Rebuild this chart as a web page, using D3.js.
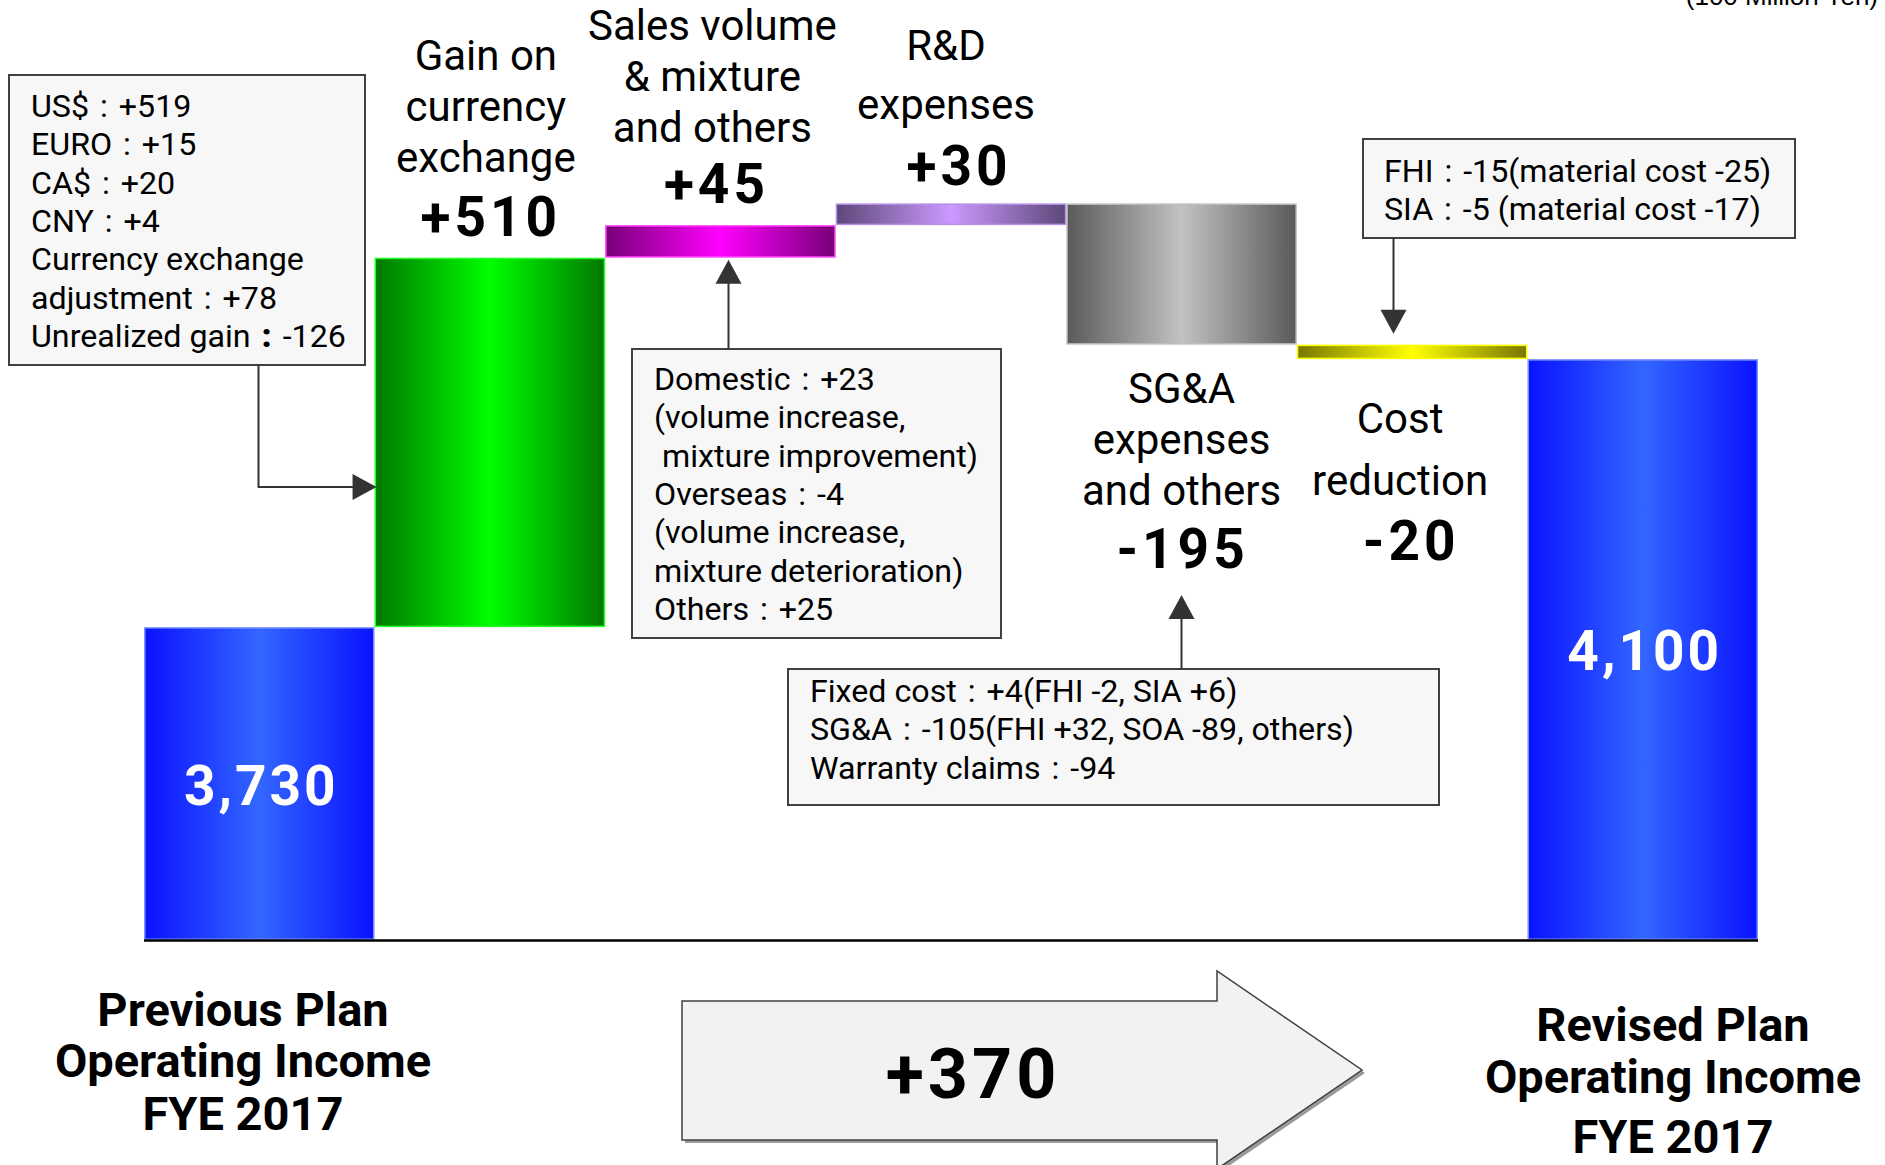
<!DOCTYPE html>
<html>
<head>
<meta charset="utf-8">
<script src="https://cdn.jsdelivr.net/npm/d3@7"></script>
<style>
  html, body { margin: 0; padding: 0; background: #ffffff; }
  svg { display: block; }
  text { font-family: Roboto, "DejaVu Sans", sans-serif; }
</style>
</head>
<body>
<svg id="chart" width="1885" height="1165"></svg>
<script>
// ---------------- DATA ----------------
const categories = [
  "Previous Plan Operating Income FYE 2017",
  "Gain on currency exchange",
  "Sales volume & mixture and others",
  "R&D expenses",
  "SG&A expenses and others",
  "Cost reduction",
  "Revised Plan Operating Income FYE 2017"
];
const values = [3730, 510, 45, 30, -195, -20, 4100];
const barKinds = ["total", "delta", "delta", "delta", "delta", "delta", "total"];
const valueLabels = ["3,730", "+510", "+45", "+30", "-195", "-20", "4,100"];
const labelLines = [
  [],
  ["Gain on", "currency", "exchange"],
  ["Sales volume", "& mixture", "and others"],
  ["R&D", "expenses"],
  ["SG&A", "expenses", "and others"],
  ["Cost", "reduction"],
  []
];
const axisFloor = 3298;          // truncated value axis bottom
const unitLabel = "(100 Million Yen)";
const totalChange = "+370";
const startTitle = ["Previous Plan", "Operating Income", "FYE 2017"];
const endTitle = ["Revised Plan", "Operating Income", "FYE 2017"];

// each note line: [label, value] ("" label = plain line)
const noteCurrency = [["US$", "+519"], ["EURO", "+15"], ["CA$", "+20"], ["CNY", "+4"],
  ["", "Currency exchange"], ["adjustment", "+78"], ["Unrealized gain", "-126"]];
const noteSales = [["Domestic", "+23"], ["", "(volume increase,"], ["", " mixture improvement)"],
  ["Overseas", "-4"], ["", "(volume increase,"], ["", "mixture deterioration)"], ["Others", "+25"]];
const noteSGA = [["Fixed cost", "+4(FHI -2, SIA +6)"],
  ["SG&A", "-105(FHI +32, SOA -89, others)"], ["Warranty claims", "-94"]];
const noteCost = [["FHI", "-15(material cost -25)"], ["SIA", "-5 (material cost -17)"]];

// ---------------- LAYOUT / STYLE ----------------
const palette = [
  {edge: "#0a12ff", mid: "#3366ff", stroke: "#7d96ff"},
  {edge: "#007800", mid: "#00ff00", stroke: "#22ff22"},
  {edge: "#780078", mid: "#ff00ff", stroke: "#ff44ff"},
  {edge: "#5c4878", mid: "#cc99ff", stroke: "#b58fe6"},
  {edge: "#5a5a5a", mid: "#c2c2c2", stroke: "#bdbdbd"},
  {edge: "#787800", mid: "#ffff00", stroke: "#ffff00"},
  {edge: "#0a12ff", mid: "#3366ff", stroke: "#7d96ff"}
];
const labelLayout = [
  null,
  {dx: -4, y0: 70, step: 51, vdx: -1, vy: 236},
  {dx: -8, y0: 40, step: 51, vdx: -6, vy: 203},
  {dx: -5, y0: 60, step: 59, vdx: 6, vy: 185},
  {dx: 0, y0: 403, step: 51, vdx: -1, vy: 568},
  {dx: -12, y0: 433, step: 62, vdx: -3, vy: 560},
  null
];

const svg = d3.select("#chart");
const defs = svg.append("defs");

const x = d3.scaleBand().domain(categories).range([144, 1758]).paddingInner(0).paddingOuter(0);

// running totals
let run = 0;
const bars = categories.map((c, i) => {
  let lo, hi;
  if (barKinds[i] === "total") { lo = axisFloor; hi = values[i]; run = values[i]; }
  else { const s = run; run = run + values[i]; lo = Math.min(s, run); hi = Math.max(s, run); }
  return {cat: c, i, lo, hi, value: values[i]};
});
const maxTop = d3.max(bars, d => d.hi);
const y = d3.scaleLinear().domain([axisFloor, maxTop]).range([940, 203.4]);

// gradients
palette.forEach((p, i) => {
  const g = defs.append("linearGradient").attr("id", "grad" + i)
    .attr("x1", "0%").attr("x2", "100%").attr("y1", "0%").attr("y2", "0%");
  g.append("stop").attr("offset", "0%").attr("stop-color", p.edge);
  g.append("stop").attr("offset", "50%").attr("stop-color", p.mid);
  g.append("stop").attr("offset", "100%").attr("stop-color", p.edge);
});

// bars
svg.append("g").selectAll("rect").data(bars).join("rect")
  .attr("x", d => x(d.cat) + 0.75)
  .attr("y", d => y(d.hi) + 0.75)
  .attr("width", x.bandwidth() - 1.5)
  .attr("height", d => Math.max(1, y(d.lo) - y(d.hi) - 1.5))
  .attr("fill", d => `url(#grad${d.i})`)
  .attr("stroke", d => palette[d.i].stroke)
  .attr("stroke-width", 1.5);

// baseline
svg.append("line")
  .attr("x1", x.range()[0]).attr("x2", x.range()[1])
  .attr("y1", y(axisFloor) + 0.5).attr("y2", y(axisFloor) + 0.5)
  .attr("stroke", "#000").attr("stroke-width", 2.5);

// total labels inside bars
const totalLabelY = {0: 805, 6: 670};
svg.append("g").selectAll("text").data(bars.filter(d => barKinds[d.i] === "total")).join("text")
  .attr("x", d => x(d.cat) + x.bandwidth() / 2 + 2)
  .attr("y", d => totalLabelY[d.i])
  .attr("text-anchor", "middle")
  .attr("fill", "#ffffff")
  .attr("font-weight", "bold")
  .attr("font-size", 55)
  .attr("letter-spacing", 3)
  .text(d => valueLabels[d.i]);

// category labels and values for deltas
bars.filter(d => barKinds[d.i] === "delta").forEach(d => {
  const L = labelLayout[d.i];
  const cx = x(d.cat) + x.bandwidth() / 2;
  const t = svg.append("text").attr("text-anchor", "middle").attr("font-size", 42).attr("fill", "#000");
  labelLines[d.i].forEach((ln, k) => {
    t.append("tspan").attr("x", cx + L.dx).attr("y", L.y0 + k * L.step).text(ln);
  });
  svg.append("text").attr("x", cx + L.vdx + 2).attr("y", L.vy)
    .attr("text-anchor", "middle").attr("font-size", 55).attr("font-weight", "bold")
    .attr("letter-spacing", 4).attr("fill", "#000").text(valueLabels[d.i]);
});

// unit label (partly off the top, as in the source)
svg.append("text").attr("x", 1878).attr("y", 5).attr("text-anchor", "end")
  .style("font-family", "'Liberation Sans', Arial, sans-serif")
  .attr("font-size", 26).attr("fill", "#000").text(unitLabel);

// annotation boxes
function noteBox(bx, by, bw, bh, tx, ty0, step, lines, boldColonRow) {
  const g = svg.append("g");
  g.append("rect").attr("x", bx).attr("y", by).attr("width", bw).attr("height", bh)
    .attr("fill", "#f7f7f7").attr("stroke", "#404040").attr("stroke-width", 2);
  const t = g.append("text").attr("font-size", 32.2).attr("fill", "#000").style("white-space", "pre");
  lines.forEach((ln, k) => {
    const row = t.append("tspan").attr("x", tx).attr("y", ty0 + k * step);
    if (ln[0] === "") { row.text(ln[1]); return; }
    row.text(ln[0] + "\u2004");
    t.append("tspan").attr("font-weight", k === boldColonRow ? "900" : null)
      .attr("font-size", k === boldColonRow ? 34 : null).text(":");
    t.append("tspan").text("\u2004" + ln[1]);
  });
}
noteBox(9, 75, 356, 290, 31, 117, 38.3, noteCurrency, 6);
noteBox(632, 349, 369, 289, 654, 390, 38.3, noteSales, -1);
noteBox(788, 669, 651, 136, 810, 702, 38.3, noteSGA, -1);
noteBox(1363, 139, 432, 99, 1384, 182, 37.7, noteCost, -1);

// connector arrows
const arrowColor = "#333333";
function head(tipX, tipY, dir) {
  const L = 24, W = 13;
  let pts;
  if (dir === "up") pts = [[tipX, tipY], [tipX - W, tipY + L], [tipX + W, tipY + L]];
  else if (dir === "down") pts = [[tipX, tipY], [tipX - W, tipY - L], [tipX + W, tipY - L]];
  else pts = [[tipX, tipY], [tipX - L, tipY - W], [tipX - L, tipY + W]];
  svg.append("polygon").attr("points", pts.map(p => p.join(",")).join(" ")).attr("fill", arrowColor);
}
const gainBar = bars[1], salesBar = bars[2], costBar = bars[5];
svg.append("path").attr("d", `M258.5,365 V487 H${x(gainBar.cat) - 20}`)
  .attr("fill", "none").attr("stroke", arrowColor).attr("stroke-width", 2);
head(x(gainBar.cat) + 2, 487, "right");
const salesTip = y(salesBar.lo) + 2;
svg.append("line").attr("x1", 728.5).attr("x2", 728.5).attr("y1", 349).attr("y2", salesTip + 20)
  .attr("stroke", arrowColor).attr("stroke-width", 2);
head(728.5, salesTip, "up");
svg.append("line").attr("x1", 1181.5).attr("x2", 1181.5).attr("y1", 669).attr("y2", 615)
  .attr("stroke", arrowColor).attr("stroke-width", 2);
head(1181.5, 595, "up");
const costTip = y(costBar.hi) - 11;
svg.append("line").attr("x1", 1393.5).attr("x2", 1393.5).attr("y1", 238).attr("y2", costTip - 20)
  .attr("stroke", arrowColor).attr("stroke-width", 2);
head(1393.5, costTip, "down");

// big bottom arrow
const arrowPts = [[682, 1001], [1217, 1001], [1217, 971], [1362, 1070], [1217, 1169], [1217, 1140], [682, 1140]];
svg.append("polygon").attr("points", arrowPts.map(p => [p[0] + 3, p[1] + 3].join(",")).join(" "))
  .attr("fill", "#9a9a9a");
svg.append("polygon").attr("points", arrowPts.map(p => p.join(",")).join(" "))
  .attr("fill", "#f2f2f2").attr("stroke", "#404040").attr("stroke-width", 1.5);
svg.append("text").attr("x", 973).attr("y", 1098).attr("text-anchor", "middle")
  .attr("font-size", 70).attr("font-weight", "bold").attr("letter-spacing", 4)
  .attr("fill", "#000").text(totalChange);

// start / end titles
function title(cx, ys, lines) {
  const t = svg.append("text").attr("text-anchor", "middle").attr("font-size", 47)
    .attr("font-weight", "bold").attr("fill", "#000");
  lines.forEach((ln, k) => t.append("tspan").attr("x", cx).attr("y", ys[k]).text(ln));
}
title(243, [1026, 1077, 1130], startTitle);
title(1673, [1041, 1093, 1153], endTitle);
</script>
</body>
</html>
